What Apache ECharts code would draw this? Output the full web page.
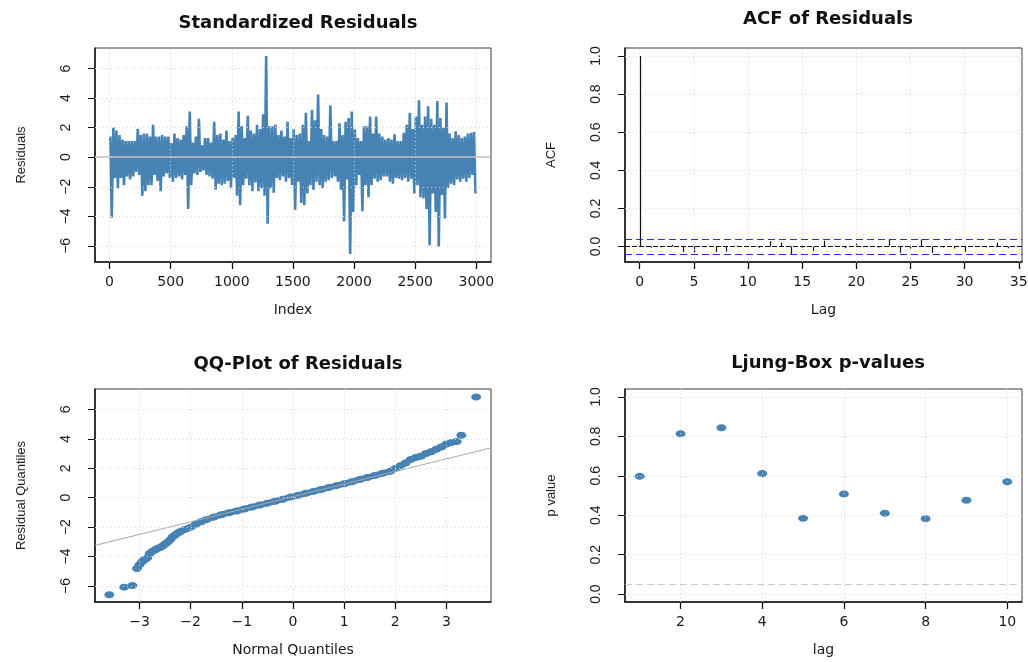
<!DOCTYPE html>
<html>
<head>
<meta charset="utf-8">
<title>Residual diagnostics</title>
<script src="https://cdn.jsdelivr.net/npm/echarts@6/dist/echarts.min.js"></script>
<style>
  html, body { margin: 0; padding: 0; background: #fff; }
  #chart { width: 1028px; height: 662px; }
</style>
</head>
<body>
<div id="chart"></div>
<script>
// Standardized residuals, summarised per block of 25 observations (block maximum / minimum)
const resBlock = 25;
const resHi = [
  1.4, 2.0, 1.8, 1.5, 1.2, 1.1, 1.1, 1.1, 1.1, 1.9,
  1.5, 1.6, 1.6, 1.4, 2.2, 1.4, 1.4, 1.5, 1.4, 1.4,
  0.95, 1.6, 1.3, 1.2, 1.5, 2.1, 3.1, 1.0, 1.4, 2.6,
  0.8, 1.3, 1.3, 1.0, 2.4, 1.5, 1.6, 1.2, 1.8, 1.1,
  1.3, 1.5, 3.1, 2.1, 1.3, 2.8, 1.8, 1.6, 2.2, 1.9,
  2.9, 6.85, 2.1, 2.1, 2.2, 1.5, 1.8, 1.4, 2.4, 1.3,
  1.9, 1.5, 1.6, 2.2, 3.0, 1.1, 3.2, 2.5, 4.25, 1.9,
  1.5, 1.4, 3.5, 1.1, 1.1, 2.3, 1.5, 2.4, 2.65, 3.1,
  1.9, 1.3, 1.1, 2.1, 2.1, 2.75, 1.6, 2.75, 1.6, 1.4,
  1.2, 1.3, 1.2, 1.55, 1.1, 1.1, 1.65, 2.2, 3.0, 1.9,
  2.75, 3.85, 2.2, 2.75, 3.45, 2.6, 2.2, 3.8, 2.65, 2.0,
  3.7, 1.6, 1.3, 1.75, 1.5, 1.3, 1.4, 1.6, 1.65, 1.7
];
const resLo = [
  -4.1, -1.4, -2.1, -1.4, -1.9, -1.3, -1.5, -1.3, -1.0, -1.2,
  -2.6, -2.3, -1.9, -1.9, -1.2, -1.6, -2.3, -1.3, -1.1, -1.4,
  -1.65, -1.4, -1.3, -1.5, -1.2, -3.5, -1.9, -1.1, -1.2, -1.0,
  -0.9, -1.2, -1.3, -1.45, -2.2, -1.8, -1.9, -1.8, -1.6, -2.1,
  -1.4, -2.6, -3.25, -1.9, -1.45, -1.9, -2.3, -1.7, -2.3, -2.1,
  -2.6, -4.5, -2.1, -2.4, -1.4, -1.55, -1.3, -1.65, -1.4, -1.9,
  -3.55, -1.65, -3.1, -3.25, -2.45, -1.9, -2.2, -1.65, -1.9, -2.1,
  -1.65, -1.55, -1.4, -1.3, -1.65, -2.2, -4.35, -1.5, -6.55, -3.7,
  -1.9, -1.2, -3.65, -1.9, -2.7, -1.9, -1.45, -1.65, -1.55, -1.3,
  -1.3, -1.65, -1.8, -1.4, -1.45, -1.55, -1.4, -1.65, -1.45, -2.45,
  -1.9, -2.7, -2.8, -3.5, -5.95, -2.45, -3.7, -6.05, -2.56, -4.15,
  -2.1, -1.8, -1.9, -1.5, -1.65, -1.45, -1.65, -1.4, -1.2, -2.45
];
const resXTicks = [0, 500, 1000, 1500, 2000, 2500, 3000];
const resYTicks = [-6, -4, -2, 0, 2, 4, 6];

// Autocorrelation of the residuals, lags 0..35, and its 95% band
const acfLags = [0,1,2,3,4,5,6,7,8,9,10,11,12,13,14,15,16,17,18,19,20,21,22,23,24,25,26,27,28,29,30,31,32,33,34,35];
const acfValues = [
  1, -0.006, -0.004, 0.009, -0.028, -0.03, -0.004, -0.028, -0.026, 0.004,
  0.001, -0.006, 0.029, 0.02, -0.04, -0.006, -0.023, 0.031, 0.005, -0.008,
  0.016, -0.003, -0.006, 0.037, -0.033, -0.01, 0.037, -0.033, -0.005, -0.01,
  -0.028, 0.002, -0.004, 0.02, -0.009, 0.003
];
const acfBand = [0.036, -0.036];
const acfXTicks = [0, 5, 10, 15, 20, 25, 30, 35];
const acfYTicks = [0, 0.2, 0.4, 0.6, 0.8, 1.0];

// Normal QQ plot: theoretical vs sample quantiles, plus the reference line (intercept, slope)
const qqTheo = [
  -3.59, -3.30, -3.14, -3.05, -3.00, -2.95, -2.90, -2.85, -2.80, -2.75,
  -2.70, -2.65, -2.60, -2.55, -2.50, -2.45, -2.40, -2.35, -2.30, -2.25,
  -2.20, -2.10, -2.00, -1.90, -1.80, -1.70, -1.55, -1.40, -1.25, -1.10,
  -0.95, -0.80, -0.65, -0.50, -0.35, -0.20, -0.05, 0.10, 0.25, 0.40,
  0.55, 0.70, 0.85, 1.00, 1.15, 1.30, 1.45, 1.60, 1.75, 1.90,
  2.00, 2.10, 2.20, 2.30, 2.40, 2.50, 2.60, 2.70, 2.80, 2.90,
  3.00, 3.10, 3.20, 3.29, 3.58
];
const qqSample = [
  -6.60, -6.08, -5.97, -4.81, -4.55, -4.35, -4.20, -4.10, -3.80, -3.65,
  -3.55, -3.45, -3.38, -3.28, -3.15, -3.02, -2.85, -2.65, -2.52, -2.40,
  -2.30, -2.15, -2.00, -1.80, -1.64, -1.50, -1.32, -1.16, -1.02, -0.90,
  -0.77, -0.63, -0.50, -0.37, -0.24, -0.10, 0.04, 0.17, 0.30, 0.43,
  0.56, 0.69, 0.82, 0.95, 1.09, 1.23, 1.37, 1.51, 1.66, 1.80,
  1.98, 2.18, 2.36, 2.60, 2.74, 2.82, 3.00, 3.12, 3.30, 3.45,
  3.65, 3.76, 3.82, 4.24, 6.85
];
const qqLineCoef = [0.073, 0.856];
const qqXTicks = [-3, -2, -1, 0, 1, 2, 3];
const qqYTicks = [-6, -4, -2, 0, 2, 4, 6];

// Ljung-Box test p-values by lag, with the 0.05 threshold
const lbLags = [1, 2, 3, 4, 5, 6, 7, 8, 9, 10];
const lbPValues = [0.597, 0.813, 0.844, 0.612, 0.385, 0.508, 0.41, 0.382, 0.476, 0.570];
const lbThreshold = 0.05;
const lbXTicks = [2, 4, 6, 8, 10];
const lbYTicks = [0, 0.2, 0.4, 0.6, 0.8, 1.0];

// ---------------------------------------------------------------------------
const BLUE = '#4682B4';
const H_FONT = 'DejaVu Sans';
const V_FONT = 'Liberation Sans';
const TEXT = '#1a1a1a';

const minusFmt = v => (v < 0 ? '\u2212' + Math.abs(v) : String(v));
const oneDec = v => v.toFixed(1);

const resData = [];
resHi.forEach((h, k) => {
  resData.push([k * resBlock + 6, h]);
  resData.push([k * resBlock + 18, resLo[k]]);
});
const acfData = acfLags.map((l, i) => [l, acfValues[i]]);
const qqData = qqTheo.map((x, i) => [x, qqSample[i]]);
// the bulk of the sample is dense enough to read as one continuous band
const qqBulk = qqData.slice(3, qqData.length - 2);
const lbData = lbLags.map((l, i) => [l, lbPValues[i]]);

const QQ_X = [-3.87, 3.87];
const qqLineData = QQ_X.map(x => [x, qqLineCoef[0] + qqLineCoef[1] * x]);

function gridLines(xt, yt) {
  const ls = { color: '#d4d4d4', width: 1, type: [1, 3] };
  return xt.map(v => ({ xAxis: v, lineStyle: ls }))
    .concat(yt.map(v => ({ yAxis: v, lineStyle: ls })));
}

function xAxisDef(gi, min, max, ticks, fmt, name) {
  return {
    type: 'value', gridIndex: gi, min: min, max: max,
    axisLine: { show: true, onZero: false, lineStyle: { color: '#111', width: 1.5 } },
    axisTick: { show: true, length: 7, customValues: ticks, lineStyle: { color: '#111', width: 1.3 } },
    axisLabel: { customValues: ticks, formatter: fmt, margin: 13, fontFamily: H_FONT, fontSize: 14, color: TEXT },
    splitLine: { show: false },
    name: name, nameLocation: 'middle', nameGap: 41,
    nameTextStyle: { fontFamily: H_FONT, fontSize: 14, color: TEXT }
  };
}
function yAxisDef(gi, min, max, ticks, fmt, name) {
  return {
    type: 'value', gridIndex: gi, min: min, max: max,
    axisLine: { show: true, onZero: false, lineStyle: { color: '#111', width: 1.5 } },
    axisTick: { show: true, length: 7, customValues: ticks, lineStyle: { color: '#111', width: 1 } },
    axisLabel: { customValues: ticks, formatter: fmt, rotate: 90, margin: 22, fontFamily: V_FONT, fontSize: 14, color: TEXT },
    splitLine: { show: false },
    name: name, nameLocation: 'middle', nameGap: 67,
    nameTextStyle: { fontFamily: V_FONT, fontSize: 13, color: TEXT }
  };
}
function titleDef(text, cx, top) {
  return {
    text: text, left: cx, top: top, textAlign: 'center',
    textStyle: { fontFamily: H_FONT, fontSize: 18, fontWeight: 'bold', color: '#111' }
  };
}
const gridBase = { show: true, borderColor: '#3a3a3a', borderWidth: 1, containLabel: false, outerBoundsMode: 'none' };

const markBase = { silent: true, symbol: ['none', 'none'], label: { show: false }, animation: false };

const option = {
  backgroundColor: '#ffffff',
  animation: false,
  title: [
    titleDef('Standardized Residuals', 293, 9),
    titleDef('ACF of Residuals', 823, 5),
    titleDef('QQ-Plot of Residuals', 293, 350),
    titleDef('Ljung-Box p-values', 823, 349)
  ],
  grid: [
    Object.assign({ left: 95, top: 48, width: 396, height: 214 }, gridBase),
    Object.assign({ left: 625, top: 48, width: 397, height: 214 }, gridBase),
    Object.assign({ left: 95, top: 389, width: 396, height: 213 }, gridBase),
    Object.assign({ left: 625, top: 389, width: 397, height: 213 }, gridBase)
  ],
  xAxis: [
    xAxisDef(0, -119, 3120, resXTicks, v => String(v), 'Index'),
    xAxisDef(1, -1.36, 35.3, acfXTicks, v => String(v), 'Lag'),
    xAxisDef(2, QQ_X[0], QQ_X[1], qqXTicks, minusFmt, 'Normal Quantiles'),
    xAxisDef(3, 0.64, 10.36, lbXTicks, v => String(v), 'lag')
  ],
  yAxis: [
    yAxisDef(0, -7.09, 7.39, resYTicks, minusFmt, 'Residuals'),
    yAxisDef(1, -0.081, 1.042, acfYTicks, oneDec, 'ACF'),
    yAxisDef(2, -7.09, 7.39, qqYTicks, minusFmt, 'Residual Quantiles'),
    yAxisDef(3, -0.04, 1.04, lbYTicks, oneDec, 'p value')
  ],
  series: [
    {
      type: 'line', xAxisIndex: 0, yAxisIndex: 0, data: resData,
      showSymbol: false, symbol: 'none', clip: true, sampling: null,
      lineStyle: { color: BLUE, width: 2.6, join: 'miter' },
      z: 2,
      markLine: Object.assign({}, markBase, {
        data: [{ yAxis: 0, lineStyle: { color: '#bdbdbd', width: 1.5, type: 'solid' } }]
          .concat(gridLines(resXTicks, resYTicks))
      })
    },
    {
      type: 'custom', xAxisIndex: 1, yAxisIndex: 1, data: acfData,
      encode: { x: 0, y: 1 }, z: 2,
      renderItem: function (params, api) {
        const p0 = api.coord([api.value(0), 0]);
        const p1 = api.coord([api.value(0), api.value(1)]);
        return {
          type: 'line',
          shape: { x1: Math.round(p0[0]) + 0.5, y1: p0[1], x2: Math.round(p1[0]) + 0.5, y2: p1[1] },
          style: { stroke: '#111', lineWidth: 1.2 }
        };
      },
      markLine: Object.assign({}, markBase, {
        data: gridLines(acfXTicks, acfYTicks).concat([
          { yAxis: 0, lineStyle: { color: '#111', width: 1, type: [5, 2] } },
          { yAxis: acfBand[0], lineStyle: { color: '#2a2ae6', width: 1.2, type: [7, 4] } },
          { yAxis: acfBand[1], lineStyle: { color: '#2a2ae6', width: 1.2, type: [7, 4] } }
        ])
      })
    },
    {
      type: 'line', xAxisIndex: 2, yAxisIndex: 2, data: qqBulk,
      showSymbol: false, symbol: 'none', clip: true,
      lineStyle: { color: BLUE, width: 6, cap: 'round', join: 'round' },
      z: 2
    },
    {
      type: 'scatter', xAxisIndex: 2, yAxisIndex: 2, data: qqData,
      symbol: 'circle', symbolSize: [10, 7],
      itemStyle: { color: BLUE, opacity: 1 },
      z: 2,
      markLine: Object.assign({}, markBase, { data: gridLines(qqXTicks, qqYTicks) })
    },
    {
      type: 'line', xAxisIndex: 2, yAxisIndex: 2, data: qqLineData,
      showSymbol: false, symbol: 'none', clip: true,
      lineStyle: { color: '#a8a8a8', width: 1 },
      z: 4
    },
    {
      type: 'scatter', xAxisIndex: 3, yAxisIndex: 3, data: lbData,
      symbol: 'circle', symbolSize: [10, 7],
      itemStyle: { color: BLUE, opacity: 1 },
      z: 2,
      markLine: Object.assign({}, markBase, {
        data: gridLines(lbXTicks, lbYTicks).concat([
          { yAxis: lbThreshold, lineStyle: { color: '#c8c8c8', width: 1.2, type: [7, 4] } }
        ])
      })
    }
  ]
};

const chart = echarts.init(document.getElementById('chart'));
chart.setOption(option);
</script>
</body>
</html>
